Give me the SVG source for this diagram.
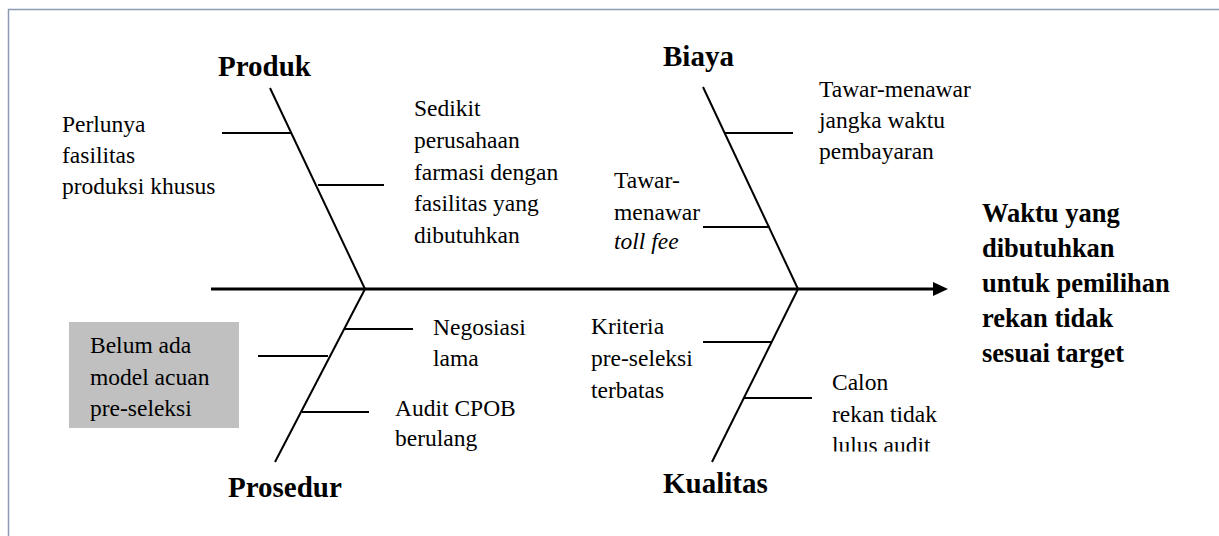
<svg xmlns="http://www.w3.org/2000/svg" width="1219" height="536" viewBox="0 0 1219 536">
<style>
.b{stroke:#000;stroke-width:2;fill:none}
.s{stroke:#000;stroke-width:3;fill:none}
</style>
<defs>
<clipPath id="clipCalon"><rect x="820" y="360" width="200" height="91.5"/></clipPath>
</defs>
<rect width="1219" height="536" fill="#fff"/>
<path d="M8.5,540 V9.5 H1225" fill="none" stroke="#8a9bb2" stroke-width="1.5"/>
<g id="connectors">
<line class="s" x1="211" y1="289" x2="935" y2="289"/>
<polygon points="933,282 948,289 933,296" fill="#000"/>
<line class="b" x1="270" y1="88" x2="365" y2="289"/>
<line class="b" x1="222" y1="133" x2="291" y2="133"/>
<line class="b" x1="318" y1="185" x2="384" y2="185"/>
<line class="b" x1="703" y1="87" x2="798" y2="289"/>
<line class="b" x1="725" y1="133" x2="793" y2="133"/>
<line class="b" x1="703" y1="227" x2="770" y2="227"/>
<line class="b" x1="365" y1="289" x2="275" y2="462"/>
<line class="b" x1="344" y1="329" x2="413" y2="329"/>
<line class="b" x1="258" y1="356" x2="328" y2="356"/>
<line class="b" x1="302" y1="412" x2="369" y2="412"/>
<line class="b" x1="798" y1="289" x2="712" y2="462"/>
<line class="b" x1="703" y1="342" x2="772" y2="342"/>
<line class="b" x1="744" y1="398" x2="812" y2="398"/>
</g>
<g font-family="Liberation Serif, Times New Roman, serif" font-size="29" font-weight="bold" fill="#000">
<g id="produk"><text x="218" y="76">Produk</text></g>
<g id="biaya"><text x="663" y="66">Biaya</text></g>
<g id="prosedur"><text x="228" y="497">Prosedur</text></g>
<g id="kualitas"><text x="663" y="493">Kualitas</text></g>
</g>
<g id="effect" font-family="Liberation Serif, Times New Roman, serif" font-size="26.5" font-weight="bold" fill="#000"><text><tspan x="982" y="222">Waktu yang</tspan><tspan x="982" y="257">dibutuhkan</tspan><tspan x="982" y="292">untuk pemilihan</tspan><tspan x="982" y="327">rekan tidak</tspan><tspan x="982" y="362">sesuai target</tspan></text></g>
<g font-family="Liberation Serif, Times New Roman, serif" font-size="23.5" fill="#000">
<g id="perlunya"><text><tspan x="62" y="132">Perlunya</tspan><tspan x="62" y="163">fasilitas</tspan><tspan x="62" y="194">produksi khusus</tspan></text></g>
<g id="sedikit"><text><tspan x="414" y="116">Sedikit</tspan><tspan x="414" y="148">perusahaan</tspan><tspan x="414" y="180">farmasi dengan</tspan><tspan x="414" y="211">fasilitas yang</tspan><tspan x="414" y="243">dibutuhkan</tspan></text></g>
<g id="tollfee"><text><tspan x="614" y="188">Tawar-</tspan><tspan x="614" y="220">menawar</tspan><tspan x="614" y="249" font-style="italic">toll fee</tspan></text></g>
<g id="jangka"><text><tspan x="819" y="97">Tawar-menawar</tspan><tspan x="819" y="128">jangka waktu</tspan><tspan x="819" y="159">pembayaran</tspan></text></g>
<g id="belum">
<rect x="69" y="322" width="170" height="106" fill="#c0c0c0"/>
<text><tspan x="90" y="353">Belum ada</tspan><tspan x="90" y="385">model acuan</tspan><tspan x="90" y="416">pre-seleksi</tspan></text>
</g>
<g id="negosiasi"><text><tspan x="433" y="335">Negosiasi</tspan><tspan x="433" y="366">lama</tspan></text></g>
<g id="audit"><text><tspan x="395" y="416">Audit CPOB</tspan><tspan x="395" y="446">berulang</tspan></text></g>
<g id="kriteria"><text><tspan x="591" y="334">Kriteria</tspan><tspan x="591" y="366">pre-seleksi</tspan><tspan x="591" y="398">terbatas</tspan></text></g>
<g id="calon"><text clip-path="url(#clipCalon)"><tspan x="832" y="390">Calon</tspan><tspan x="832" y="422">rekan tidak</tspan><tspan x="832" y="453">lulus audit</tspan></text></g>
</g>
</svg>
